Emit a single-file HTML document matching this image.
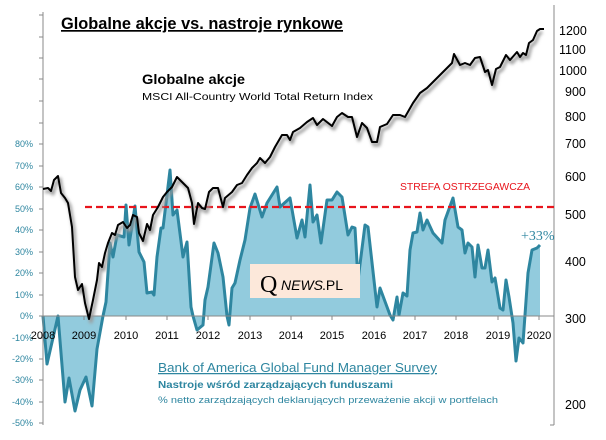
<!DOCTYPE html>
<html><head><meta charset="utf-8"><style>
body{margin:0;background:#fff}
svg{display:block;font-family:"Liberation Sans",sans-serif}
</style></head><body>
<svg width="606" height="440" viewBox="0 0 606 440">
<defs><filter id="sh" x="-5%" y="-5%" width="110%" height="110%"><feGaussianBlur stdDeviation="1.5"/></filter></defs>
<polygon fill="#92cbdd" points="43,316 47,364 58,316 65,402 69,378 75,411 80,390 86,377 92,406 97,349 103,316 106,302 110,243 113,257 117,235 124,237 126,205 129,245 135,206 139,252 144,262 147,293 152,292 154,295 157,257 161,228 163,228 170,170 173,215 177,210 183,257 187,242 191,307 193,316 197,330 203,325 205,300 208,287 214,243 218,253 223,277 227,316 229,325 232,288 235,283 240,260 245,240 250,208 255,194 262,217 267,203 277,187 280,207 290,198 297,238 302,220 305,237 310,185 313,222 317,215 321,243 327,200 332,200 337,192 342,197 348,235 352,227 355,228 358,280 365,225 368,227 377,307 380,288 390,315 393,320 397,297 399,315 403,293 407,296 410,250 413,233 417,232 420,213 423,230 427,220 433,233 442,243 445,220 453,198 458,227 462,230 465,253 468,243 472,247 475,277 478,245 482,268 485,268 488,250 492,282 495,278 500,308 503,310 506,280 509,297 513,323 516,361 519,338 523,343 528,273 532,250 537,248 540,245 540,316"/>
<polyline fill="none" stroke="#2e86a0" stroke-width="3" stroke-linejoin="round" points="43,316 47,364 58,316 65,402 69,378 75,411 80,390 86,377 92,406 97,349 103,316 106,302 110,243 113,257 117,235 124,237 126,205 129,245 135,206 139,252 144,262 147,293 152,292 154,295 157,257 161,228 163,228 170,170 173,215 177,210 183,257 187,242 191,307 193,316 197,330 203,325 205,300 208,287 214,243 218,253 223,277 227,316 229,325 232,288 235,283 240,260 245,240 250,208 255,194 262,217 267,203 277,187 280,207 290,198 297,238 302,220 305,237 310,185 313,222 317,215 321,243 327,200 332,200 337,192 342,197 348,235 352,227 355,228 358,280 365,225 368,227 377,307 380,288 390,315 393,320 397,297 399,315 403,293 407,296 410,250 413,233 417,232 420,213 423,230 427,220 433,233 442,243 445,220 453,198 458,227 462,230 465,253 468,243 472,247 475,277 478,245 482,268 485,268 488,250 492,282 495,278 500,308 503,310 506,280 509,297 513,323 516,361 519,338 523,343 528,273 532,250 537,248 540,245"/>
<g stroke="#888" stroke-width="1" fill="none">
<line x1="43" y1="12" x2="43" y2="425"/>
<line x1="43" y1="316" x2="554" y2="316"/>
<line x1="554" y1="5" x2="554" y2="425"/>
</g>
<g stroke="#888">
<line x1="39" y1="15" x2="43" y2="15"/><line x1="39" y1="37" x2="43" y2="37"/><line x1="39" y1="58" x2="43" y2="58"/><line x1="39" y1="79" x2="43" y2="79"/><line x1="39" y1="101" x2="43" y2="101"/><line x1="39" y1="123" x2="43" y2="123"/><line x1="39" y1="144" x2="43" y2="144"/><line x1="39" y1="166" x2="43" y2="166"/><line x1="39" y1="187" x2="43" y2="187"/><line x1="39" y1="209" x2="43" y2="209"/><line x1="39" y1="230" x2="43" y2="230"/><line x1="39" y1="252" x2="43" y2="252"/><line x1="39" y1="273" x2="43" y2="273"/><line x1="39" y1="295" x2="43" y2="295"/><line x1="39" y1="316" x2="43" y2="316"/><line x1="39" y1="338" x2="43" y2="338"/><line x1="39" y1="359" x2="43" y2="359"/><line x1="39" y1="380" x2="43" y2="380"/><line x1="39" y1="402" x2="43" y2="402"/><line x1="39" y1="423" x2="43" y2="423"/>
<line x1="84" y1="316" x2="84" y2="320"/><line x1="126" y1="316" x2="126" y2="320"/><line x1="167" y1="316" x2="167" y2="320"/><line x1="208" y1="316" x2="208" y2="320"/><line x1="250" y1="316" x2="250" y2="320"/><line x1="291" y1="316" x2="291" y2="320"/><line x1="332" y1="316" x2="332" y2="320"/><line x1="374" y1="316" x2="374" y2="320"/><line x1="415" y1="316" x2="415" y2="320"/><line x1="456" y1="316" x2="456" y2="320"/><line x1="498" y1="316" x2="498" y2="320"/><line x1="539" y1="316" x2="539" y2="320"/>
<line x1="554" y1="425" x2="550" y2="425"/>
</g>
<line x1="85" y1="207" x2="554" y2="207" stroke="#e8141c" stroke-width="2.2" stroke-dasharray="7,4"/>
<g fill="none" stroke-linejoin="round">
<polyline stroke="#999" stroke-width="3" filter="url(#sh)" transform="translate(2,3)" points="43,189 48,188 51,191 54,180 58,176 61,193 65,198 68,203 72,227 75,277 78,290 82,284 85,303 89,319 93,300 97,280 99,263 102,267 105,253 108,243 112,233 115,235 118,225 123,222 127,228 130,225 133,215 137,217 139,233 143,241 147,224 150,230 153,215 158,207 163,197 167,192 172,187 177,177 182,182 188,188 192,203 194,224 198,203 202,208 205,209 209,192 213,188 218,188 223,207 225,198 232,192 237,185 242,183 247,175 252,168 257,163 260,158 265,163 270,157 275,147 282,135 287,135 290,140 293,132 300,128 307,122 313,118 317,125 323,119 332,126 337,117 342,113 348,117 352,117 357,137 362,123 367,128 372,142 377,142 380,127 387,124 393,115 400,115 405,117 413,103 420,93 427,88 433,82 440,75 447,68 452,63 454,54 460,65 465,63 470,65 475,58 480,57 485,72 488,70 492,85 496,69 500,67 506,55 510,60 517,52 520,57 523,53 526,55 529,43 533,40 537,31 540,29"/>
<polyline stroke="#000" stroke-width="2" points="43,189 48,188 51,191 54,180 58,176 61,193 65,198 68,203 72,227 75,277 78,290 82,284 85,303 89,319 93,300 97,280 99,263 102,267 105,253 108,243 112,233 115,235 118,225 123,222 127,228 130,225 133,215 137,217 139,233 143,241 147,224 150,230 153,215 158,207 163,197 167,192 172,187 177,177 182,182 188,188 192,203 194,224 198,203 202,208 205,209 209,192 213,188 218,188 223,207 225,198 232,192 237,185 242,183 247,175 252,168 257,163 260,158 265,163 270,157 275,147 282,135 287,135 290,140 293,132 300,128 307,122 313,118 317,125 323,119 332,126 337,117 342,113 348,117 352,117 357,137 362,123 367,128 372,142 377,142 380,127 387,124 393,115 400,115 405,117 413,103 420,93 427,88 433,82 440,75 447,68 452,63 454,54 460,65 465,63 470,65 475,58 480,57 485,72 488,70 492,85 496,69 500,67 506,55 510,60 517,52 520,57 523,53 526,55 529,43 533,40 537,31 540,29 544,29"/>
</g>
<g fill="#2e86a0" font-size="9" text-anchor="end">
<text x="33" y="147">80%</text><text x="33" y="169">70%</text><text x="33" y="190">60%</text><text x="33" y="212">50%</text><text x="33" y="233">40%</text><text x="33" y="255">30%</text><text x="33" y="276">20%</text><text x="33" y="298">10%</text><text x="33" y="319">0%</text><text x="33" y="341">-10%</text><text x="33" y="362">-20%</text><text x="33" y="383">-30%</text><text x="33" y="405">-40%</text><text x="33" y="426">-50%</text>
</g>
<g fill="#000" font-size="12.5">
<text x="559" y="35">1200</text><text x="559" y="54">1100</text><text x="559" y="75">1000</text><text x="565" y="96">900</text><text x="565" y="121">800</text><text x="565" y="148">700</text><text x="565" y="181">600</text><text x="565" y="219">500</text><text x="565" y="266">400</text><text x="565" y="323">300</text><text x="565" y="409">200</text>
</g>
<g fill="#000" font-size="11" text-anchor="middle">
<text x="43" y="339">2008</text><text x="84" y="339">2009</text><text x="126" y="339">2010</text><text x="167" y="339">2011</text><text x="208" y="339">2012</text><text x="250" y="339">2013</text><text x="291" y="339">2014</text><text x="332" y="339">2015</text><text x="374" y="339">2016</text><text x="415" y="339">2017</text><text x="456" y="339">2018</text><text x="498" y="339">2019</text><text x="539" y="339">2020</text>
</g>
<text x="61" y="29" font-size="17" font-weight="bold" text-decoration="underline" textLength="282" lengthAdjust="spacingAndGlyphs">Globalne akcje vs. nastroje rynkowe</text>
<text x="142" y="84" font-size="14" font-weight="bold" textLength="103" lengthAdjust="spacingAndGlyphs">Globalne  akcje</text>
<text x="142" y="100" font-size="10.5" textLength="231" lengthAdjust="spacingAndGlyphs">MSCI All-Country World Total Return  Index</text>
<text x="400" y="190" font-size="10" fill="#e8141c" textLength="130" lengthAdjust="spacingAndGlyphs">STREFA  OSTRZEGAWCZA</text>
<text x="521" y="240" font-size="14" fill="#2e86a0" font-family="Liberation Serif,serif">+33%</text>
<rect x="250" y="264" width="110" height="34" fill="#fce8da"/>
<text x="260" y="292" font-size="24" font-family="Liberation Serif,serif">Q</text>
<text x="281" y="290" font-size="14" font-style="italic">NEWS</text><text x="322" y="290" font-size="14">.PL</text>
<text x="158" y="372" font-size="12.5" fill="#2e86a0" text-decoration="underline" textLength="279" lengthAdjust="spacingAndGlyphs">Bank of America Global Fund Manager Survey</text>
<text x="158" y="388" font-size="10.5" font-weight="bold" fill="#2e86a0" textLength="235" lengthAdjust="spacingAndGlyphs">Nastroje wśród zarządzających   funduszami</text>
<text x="158" y="403" font-size="9.5" fill="#2e86a0" textLength="340" lengthAdjust="spacingAndGlyphs">% netto zarządzających deklarujących przeważenie akcji w portfelach</text>
</svg>
</body></html>
